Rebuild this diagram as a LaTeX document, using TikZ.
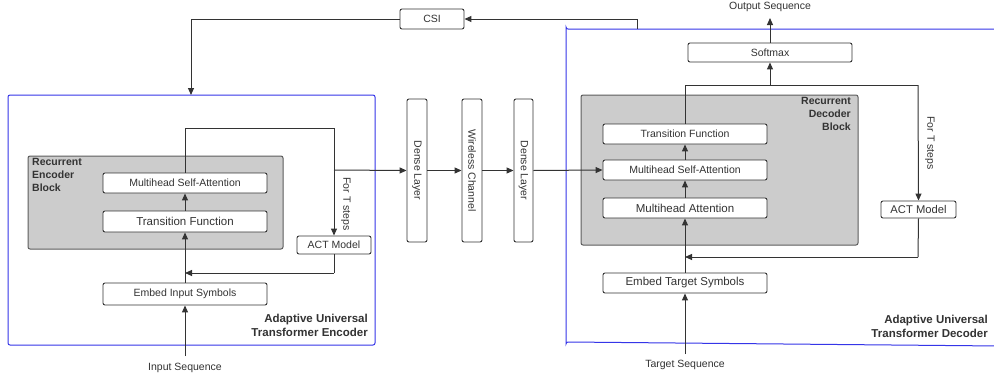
\documentclass[tikz,border=0pt]{standalone}
\usepackage{fontspec}
\setmainfont{Liberation Sans}
\usetikzlibrary{arrows.meta}
\definecolor{ln}{HTML}{333333}
\definecolor{bl}{HTML}{3535E8}
\definecolor{gf}{HTML}{CCCCCC}
\begin{document}
\begin{tikzpicture}[x=1pt,y=-1pt,
  font=\fontsize{10.5}{12}\selectfont, text=ln,
  box/.style={draw=ln, fill=white, rounded corners=2pt, line width=0.9pt, inner sep=0pt},
  graybox/.style={draw=ln!80, fill=gf, rounded corners=2pt, line width=1pt, inner sep=0pt},
  bluebox/.style={draw=bl, rounded corners=2pt, line width=1pt, inner sep=0pt},
  wire/.style={draw=ln, line width=1pt},
  arr/.style={draw=ln, line width=1pt, -{Triangle[length=7pt,width=6pt]}},
  blab/.style={font=\fontsize{11.5}{14}\selectfont\bfseries, inner sep=0pt},
  glab/.style={font=\fontsize{10.5}{13}\selectfont\bfseries, inner sep=0pt},
  plain/.style={inner sep=0pt}]
\useasboundingbox (0,0) rectangle (994,381);
\fill[white] (0,0) rectangle (994,381);

% ---------- Encoder ----------
\node[bluebox, minimum width=367, minimum height=250] (enc) at (191.5,220) {};
\node[graybox, minimum width=255, minimum height=93] (egray) at (155.5,202.5) {};
\node[glab, anchor=north west, align=left] (eglab) at (32,158) {Recurrent\\Encoder\\Block};
\node[box, minimum width=164, minimum height=20] (emsa) at (185,183) {Multihead Self-Attention};
\node[box, minimum width=164, minimum height=21, font=\fontsize{11.5}{13}\selectfont] (etf) at (185,221.5) {Transition Function};
\node[box, minimum width=164, minimum height=22] (eemb) at (185,294) {Embed Input Symbols};
\node[box, minimum width=74, minimum height=18] (eact) at (334,245) {ACT Model};
\node[plain, rotate=-90] (eft) at (346,204) {For T steps};
\node[blab, anchor=north east, align=right] (eblab) at (368,314) {Adaptive Universal\\Transformer Encoder};
\node[plain] (ein) at (185,368) {Input Sequence};

\coordinate (einS) at (185,356);
\coordinate (eup) at (185,128);
\coordinate (ecorner) at (334,128);
\coordinate (ebranch) at (334,170);
\coordinate (eback1) at (334,273);
\coordinate (eback2) at (185,273);

\draw[arr] (einS) -- (eemb.south);
\draw[arr] (eemb.north) -- (etf.south);
\draw[arr] (etf.north) -- (emsa.south);
\draw[wire] (emsa.north) -- (eup) -- (ecorner);
\draw[arr] (ecorner) -- (eact.north);
\draw[wire] (eact.south) -- (eback1);
\draw[arr] (eback1) -- (eback2);

% ---------- Channel ----------
\node[box, minimum width=20, minimum height=143] (d1) at (417,170.5) {\rotatebox{-90}{Dense Layer}};
\node[box, minimum width=20, minimum height=143] (wc) at (472,170.5) {\rotatebox{-90}{Wireless Channel}};
\node[box, minimum width=19, minimum height=143] (d2) at (523.5,170.5) {\rotatebox{-90}{Dense Layer}};

\draw[arr] (ebranch) -- (d1.west);
\draw[arr] (d1.east) -- (wc.west);
\draw[arr] (wc.east) -- (d2.west);

% ---------- Decoder ----------
\draw[bl, line width=1pt] (1000,29) -- (568,29) arc[start angle=90, end angle=180, radius=2] -- (566,344) arc[start angle=180, end angle=270, radius=2] -- (1000,346);
\coordinate (dec) at (566,29);
\node[graybox, minimum width=277, minimum height=150] (dgray) at (719.5,170) {};
\node[glab, anchor=north east, align=right] (dglab) at (851,97) {Recurrent\\Decoder\\Block};
\node[box, minimum width=164, minimum height=20] (dtf) at (685,134) {Transition Function};
\node[box, minimum width=164, minimum height=20] (dmsa) at (685,170) {Multihead Self-Attention};
\node[box, minimum width=164, minimum height=20, font=\fontsize{11.5}{13}\selectfont] (dma) at (685,208) {Multihead Attention};
\node[box, minimum width=164, minimum height=20, font=\fontsize{11.5}{13}\selectfont] (demb) at (685,283) {Embed Target Symbols};
\node[box, minimum width=164, minimum height=19] (soft) at (770,52.5) {Softmax};
\node[box, minimum width=75, minimum height=17, font=\fontsize{11.2}{13}\selectfont] (dact) at (918.5,209.5) {ACT Model};
\node[plain, rotate=-90] (dft) at (930,143) {For T steps};
\node[blab, anchor=north east, align=right] (dblab) at (988,315) {Adaptive Universal\\Transformer Decoder};
\node[plain] (dout) at (770,7) {Output Sequence};
\node[plain] (din) at (685,365) {Target Sequence};

\coordinate (dinS) at (685,354);
\coordinate (dup) at (685,85);
\coordinate (dsoft) at (770,85);
\coordinate (dcorner) at (918,85);
\coordinate (dback1) at (918,257);
\coordinate (dback2) at (685,257);
\coordinate (doutS) at (770,18);

\draw[arr] (d2.east) -- (dmsa.west);
\draw[arr] (dinS) -- (demb.south);
\draw[arr] (demb.north) -- (dma.south);
\draw[arr] (dma.north) -- (dmsa.south);
\draw[arr] (dmsa.north) -- (dtf.south);
\draw[wire] (dtf.north) -- (dup) -- (dcorner);
\draw[arr] (dcorner) -- (dact.north);
\draw[arr] (dsoft) -- (soft.south);
\draw[arr] (soft.north) -- (doutS);
\draw[wire] (dact.south) -- (dback1);
\draw[arr] (dback1) -- (dback2);

% ---------- CSI feedback ----------
\node[box, minimum width=64, minimum height=20] (csi) at (432,19) {CSI};
\coordinate (cL) at (191,19);
\coordinate (cLd) at (191,95);
\coordinate (cR0) at (637,29);
\coordinate (cR) at (637,19);
\draw[wire] (csi.west) -- (cL);
\draw[arr] (cL) -- (cLd);
\draw[wire] (cR0) -- (cR);
\draw[arr] (cR) -- (csi.east);
\end{tikzpicture}
\end{document}
